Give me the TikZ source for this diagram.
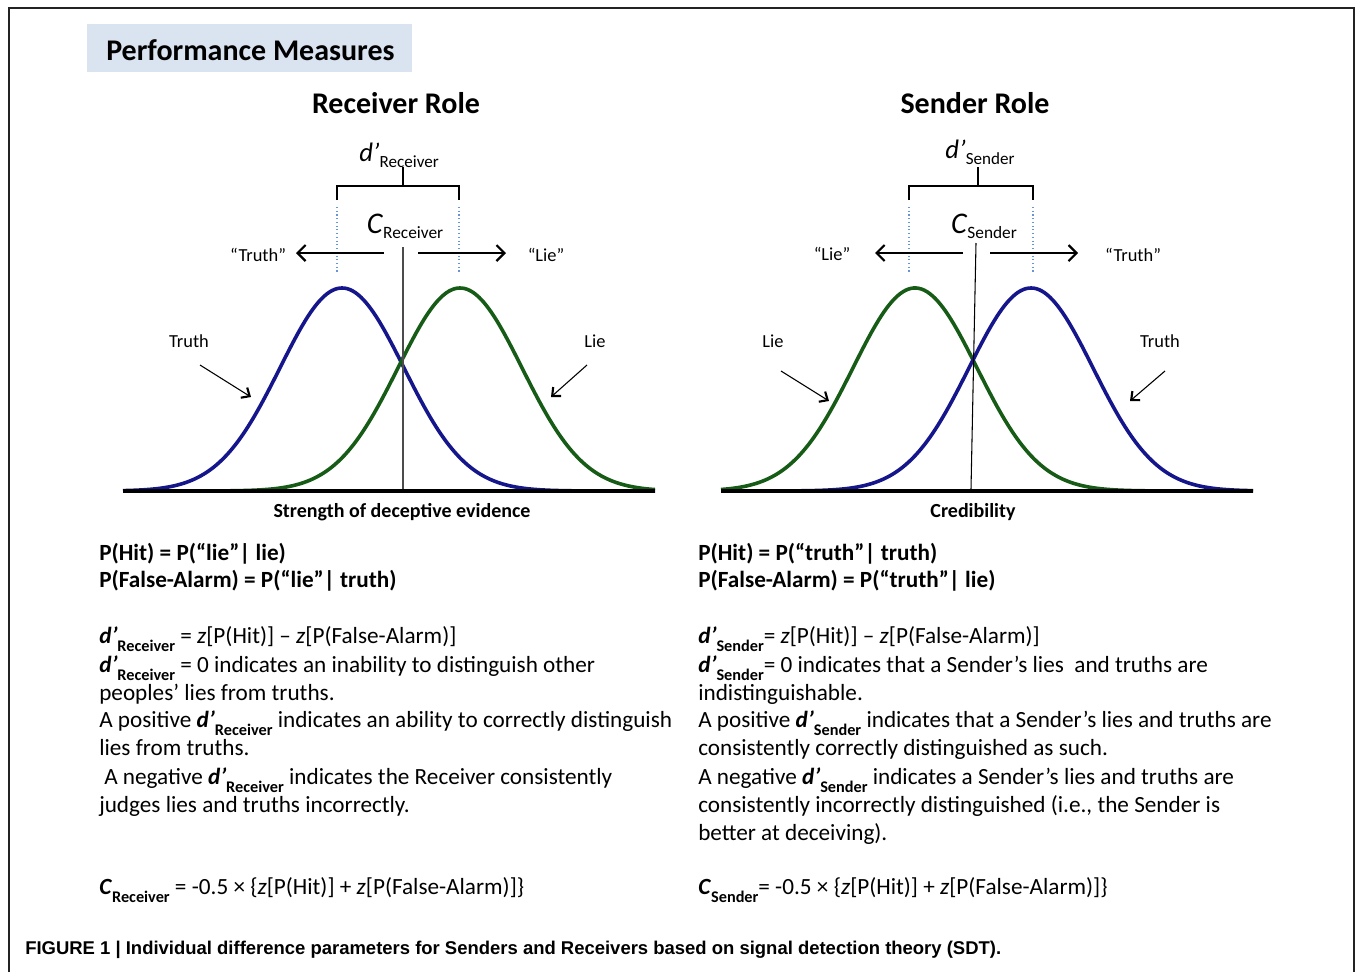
\documentclass[tikz,border=0pt]{standalone}
\usepackage{fontspec}
\setmainfont{Carlito}
\newfontfamily\capfont{Liberation Sans}
\usetikzlibrary{arrows.meta}
\definecolor{hdr}{RGB}{218,227,240}
\definecolor{cblue}{RGB}{22,22,140}
\definecolor{cgreen}{RGB}{22,92,22}
\definecolor{dotblue}{RGB}{100,150,215}
\definecolor{frame}{RGB}{35,35,35}
\newcommand\dsub[1]{\textbf{\textit{d’}}\raisebox{-0.38em}{\fontsize{12.2}{14}\selectfont\bfseries #1}}
\newcommand\csub[1]{\textbf{\textit{C}}\raisebox{-0.38em}{\fontsize{12.2}{14}\selectfont\bfseries #1}}
\newcommand\zz{\textit{z}}
\tikzset{
  body/.style={anchor=base west, inner sep=0pt, font=\fontsize{17.4}{20}\selectfont},
  lbl/.style={inner sep=0pt, font=\fontsize{13.8}{16}\selectfont},
  axislbl/.style={inner sep=0pt, font=\fontsize{15}{17}\selectfont\bfseries},
  roletitle/.style={anchor=base, inner sep=0pt, font=\fontsize{22.5}{25}\selectfont\bfseries},
  curveB/.style={cblue, line width=2.7pt},
  curveG/.style={cgreen, line width=2.7pt},
  baseln/.style={black, line width=3pt},
  dotln/.style={dotblue, dotted, line width=0.8pt},
  brk/.style={black, line width=1.2pt},
  bigarrow/.style={line width=1.5pt, -{Straight Barb[length=6pt,width=12pt,line width=1.6pt]}},
  smallarrow/.style={line width=0.8pt, -{Straight Barb[length=5pt,width=9pt,line width=1.6pt]}},
  toplbl/.style={anchor=base, inner sep=0pt},
}
\begin{document}
\begin{tikzpicture}[x=0.75pt,y=-0.75pt]
\useasboundingbox (0,0) rectangle (1356,972);
% frame
\draw[frame, line width=1.5pt] (9,972) -- (9,8) -- (1354,8) -- (1354,972);
% header
\node[fill=hdr, minimum width=325*0.75pt, minimum height=48*0.75pt, inner sep=0pt] (hdrbox) at (249.5,48) {};
\node[anchor=base west, inner sep=0pt, font=\fontsize{22.5}{25}\selectfont\bfseries] (hdrtext) at (106,60) {Performance Measures};
\node[roletitle] (rtitle) at (396,113) {Receiver Role};
\node[roletitle] (stitle) at (975,113) {Sender Role};

% ===== Receiver graph =====
\draw[curveB] plot[domain=123:655, samples=200] (\x, {491 - 203*exp(-0.5*((\x-342)/62)^2)});
\draw[curveG] plot[domain=123:655, samples=200] (\x, {491 - 203*exp(-0.5*((\x-460)/62)^2)});
\coordinate (rb1) at (123,491); \coordinate (rb2) at (655,491);
\draw[baseln] (rb1) -- (rb2);
\coordinate (rc1) at (403,247); \coordinate (rc2) at (403,489);
\draw[black!70, line width=1.1pt] (rc1) -- (rc2);
\coordinate (rd1a) at (337,207); \coordinate (rd1b) at (337,273);
\coordinate (rd2a) at (459,207); \coordinate (rd2b) at (459,273);
\draw[dotln] (rd1a) -- (rd1b);
\draw[dotln] (rd2a) -- (rd2b);
\coordinate (rbl) at (337,200); \coordinate (rbr) at (459,200);
\coordinate (rstem) at (403,167);
\draw[brk] (rbl) -- (337,186) -- (459,186) -- (rbr);
\draw[brk] (rstem) -- (403,186);
\node[toplbl] (rdl) at (399,161) {\fontsize{20}{22}\selectfont\textit{d’}\raisebox{-5pt}{\fontsize{12.8}{14}\selectfont Receiver}};
\node[toplbl] (rcl) at (405,233) {\fontsize{22.5}{24}\selectfont\textit{C}\raisebox{-4pt}{\fontsize{13}{14}\selectfont Receiver}};
\coordinate (ra1) at (384,253); \coordinate (ra2) at (296,253);
\coordinate (ra3) at (418,253); \coordinate (ra4) at (506,253);
\draw[bigarrow] (ra1) -- (ra2);
\draw[bigarrow] (ra3) -- (ra4);
\node[lbl] (rqt) at (258,255) {“Truth”};
\node[lbl] (rql) at (546,255) {“Lie”};
\node[lbl] (rtl) at (189,341) {Truth};
\node[lbl] (rll) at (595,341) {Lie};
\coordinate (rta) at (200,365); \coordinate (rtb) at (251,397);
\coordinate (rla) at (587,365); \coordinate (rlb) at (551,397);
\draw[smallarrow] (rta) -- (rtb);
\draw[smallarrow] (rla) -- (rlb);
\node[axislbl] (rax) at (402,512) {Strength of deceptive evidence};

% ===== Sender graph =====
\draw[curveG] plot[domain=721:1253, samples=200] (\x, {491 - 203*exp(-0.5*((\x-915)/62)^2)});
\draw[curveB] plot[domain=721:1253, samples=200] (\x, {491 - 203*exp(-0.5*((\x-1031)/62)^2)});
\coordinate (sb1) at (721,491); \coordinate (sb2) at (1253,491);
\draw[baseln] (sb1) -- (sb2);
\coordinate (sc1) at (976,243); \coordinate (sc2) at (971,489);
\draw[black, line width=0.8pt] (sc1) -- (sc2);
\coordinate (sd1a) at (909,207); \coordinate (sd1b) at (909,273);
\coordinate (sd2a) at (1033,207); \coordinate (sd2b) at (1033,273);
\draw[dotln] (sd1a) -- (sd1b);
\draw[dotln] (sd2a) -- (sd2b);
\coordinate (sbl) at (909,200); \coordinate (sbr) at (1033,200);
\coordinate (sstem) at (978,167);
\draw[brk] (sbl) -- (909,186) -- (1033,186) -- (sbr);
\draw[brk] (sstem) -- (978,186);
\node[toplbl] (sdl) at (980,158) {\fontsize{20}{22}\selectfont\textit{d’}\raisebox{-5pt}{\fontsize{12.8}{14}\selectfont Sender}};
\node[toplbl] (scl) at (984,233) {\fontsize{22.5}{24}\selectfont\textit{C}\raisebox{-4pt}{\fontsize{13}{14}\selectfont Sender}};
\coordinate (sa1) at (963,253); \coordinate (sa2) at (875,253);
\coordinate (sa3) at (990,253); \coordinate (sa4) at (1078,253);
\draw[bigarrow] (sa1) -- (sa2);
\draw[bigarrow] (sa3) -- (sa4);
\node[lbl] (sql) at (832,254) {“Lie”};
\node[lbl] (sqt) at (1133,255) {“Truth”};
\node[lbl] (sll) at (773,341) {Lie};
\node[lbl] (stl) at (1160,341) {Truth};
\coordinate (sla) at (781,371); \coordinate (slb) at (829,401);
\coordinate (sta) at (1165,371); \coordinate (stb) at (1130,401);
\draw[smallarrow] (sla) -- (slb);
\draw[smallarrow] (sta) -- (stb);
\node[axislbl] (sax) at (973,512) {Credibility};

% ===== Left text =====
\node[body] (l1) at (99,560) {\bfseries P(Hit) = P(“lie”| lie)};
\node[body] (l2) at (99,587) {\bfseries P(False-Alarm) = P(“lie”| truth)};
\node[body] (l3) at (99,643) {\dsub{Receiver} = \zz[P(Hit)] – \zz[P(False-Alarm)]};
\node[body] (l4) at (99,672) {\dsub{Receiver} = 0 indicates an inability to distinguish other};
\node[body] (l5) at (99,700) {peoples’ lies from truths.};
\node[body] (l6) at (99,727) {A positive \dsub{Receiver} indicates an ability to correctly distinguish};
\node[body] (l7) at (99,755) {lies from truths.};
\node[body] (l8) at (104,784) {A negative \dsub{Receiver} indicates the Receiver consistently};
\node[body] (l9) at (99,812) {judges lies and truths incorrectly.};
\node[body] (l10) at (99,894) {\csub{Receiver} = -0.5 × \{\zz[P(Hit)] + \zz[P(False-Alarm)]\}};

% ===== Right text =====
\node[body] (r1) at (698,560) {\bfseries P(Hit) = P(“truth”| truth)};
\node[body] (r2) at (698,587) {\bfseries P(False-Alarm) = P(“truth”| lie)};
\node[body] (r3) at (698,643) {\dsub{Sender}= \zz[P(Hit)] – \zz[P(False-Alarm)]};
\node[body] (r4) at (698,672) {\dsub{Sender}= 0 indicates that a Sender’s lies \ and truths are};
\node[body] (r5) at (698,700) {indistinguishable.};
\node[body] (r6) at (698,727) {A positive \dsub{Sender} indicates that a Sender’s lies and truths are};
\node[body] (r7) at (698,755) {consistently correctly distinguished as such.};
\node[body] (r8) at (698,784) {A negative \dsub{Sender} indicates a Sender’s lies and truths are};
\node[body] (r9) at (698,812) {consistently incorrectly distinguished (i.e., the Sender is};
\node[body] (r10) at (698,840) {better at deceiving).};
\node[body] (r11) at (698,894) {\csub{Sender}= -0.5 × \{\zz[P(Hit)] + \zz[P(False-Alarm)]\}};

% caption
\node[anchor=base west, inner sep=0pt, font=\capfont\bfseries\fontsize{13.85}{16}\selectfont] (cap) at (25,954) {FIGURE 1 | Individual difference parameters for Senders and Receivers based on signal detection theory (SDT).};
\end{tikzpicture}
\end{document}
